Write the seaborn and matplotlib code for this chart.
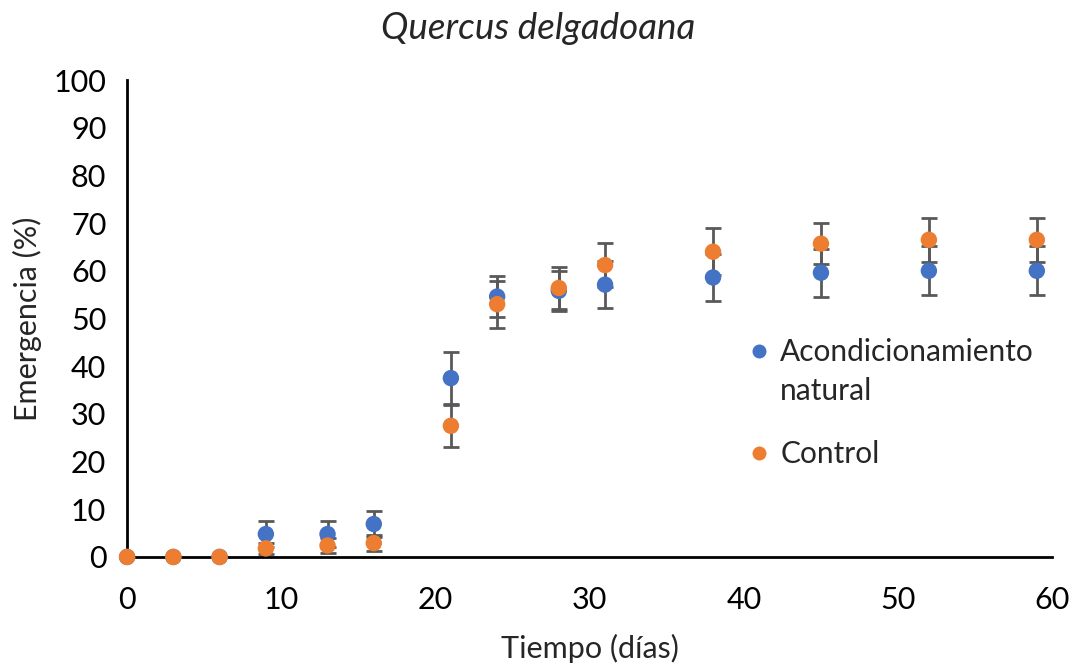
import matplotlib
matplotlib.use("Agg")
import matplotlib.pyplot as plt
import numpy as np
import pandas as pd
import seaborn as sns

# values
dias = [0, 3, 6, 9, 13, 16, 21, 24, 28, 31, 38, 45, 52, 59]
natural = [0, 0, 0, 4.8, 4.8, 6.9, 37.5, 54.6, 55.8, 57.1, 58.6, 59.6, 60.0, 60.0]
natural_err = [0, 0, 0, 2.7, 2.7, 2.7, 5.4, 4.3, 4.2, 4.9, 4.9, 5.0, 5.1, 5.1]
control = [0, 0, 0, 1.8, 2.4, 2.9, 27.5, 53.0, 56.4, 61.2, 64.0, 65.7, 66.5, 66.5]
control_err = [0, 0, 0, 1.2, 1.6, 1.6, 4.4, 4.9, 4.5, 4.6, 4.9, 4.3, 4.6, 4.6]

series_names = ["Acondicionamiento\nnatural", "Control"]
colors = ["#4472C4", "#ED7D31"]

df = pd.concat([
    pd.DataFrame({"Tiempo": dias, "Emergencia": natural, "err": natural_err, "Serie": series_names[0]}),
    pd.DataFrame({"Tiempo": dias, "Emergencia": control, "err": control_err, "Serie": series_names[1]}),
])

sns.set_theme(style="white")
plt.rcParams["font.family"] = ["Lato", "DejaVu Sans"]

fig = plt.figure(figsize=(10.77, 6.67), dpi=100)
ax = fig.add_axes([0.118, 0.165, 0.859, 0.715])

# error bars first, so the markers sit on top
for name in series_names:
    sub = df[df["Serie"] == name]
    ax.errorbar(sub["Tiempo"], sub["Emergencia"], yerr=sub["err"], fmt="none",
                ecolor="#595959", elinewidth=2, capsize=6, capthick=2, zorder=1)

sns.scatterplot(data=df, x="Tiempo", y="Emergencia", hue="Serie",
                palette=dict(zip(series_names, colors)), s=140,
                edgecolor="none", ax=ax, zorder=3, clip_on=False)

ax.set_xlim(0, 60)
ax.set_ylim(0, 100)
ax.set_xticks(range(0, 61, 10))
ax.set_yticks(range(0, 101, 10))
ax.tick_params(axis="both", length=0, labelsize=22, colors="black")
ax.tick_params(axis="x", pad=21)
ax.tick_params(axis="y", pad=15)

for side in ["top", "right"]:
    ax.spines[side].set_visible(False)
for side in ["left", "bottom"]:
    ax.spines[side].set_color("black")
    ax.spines[side].set_linewidth(2)

ax.set_xlabel("Tiempo (días)", fontsize=22, labelpad=14)
ax.set_ylabel("Emergencia (%)", fontsize=22, labelpad=8)
# title is centred on the whole figure, not on the axes
fig.suptitle("Quercus delgadoana", fontsize=26.5, style="italic", x=0.5, y=0.958, va="center")

leg = ax.legend(loc="upper left", bbox_to_anchor=(0.635, 0.515), frameon=False,
                fontsize=21.5, handletextpad=0.1, labelspacing=1.2,
                markerscale=0.85, handlelength=1.2)
for t in leg.get_texts():
    t.set_linespacing(1.45)
# lift the first marker so it lines up with the first text line
h = leg.legend_handles[0]
h.set_ydata(np.asarray(h.get_ydata(), dtype=float) + 15.5)

fig.savefig("out.png", dpi=100)
